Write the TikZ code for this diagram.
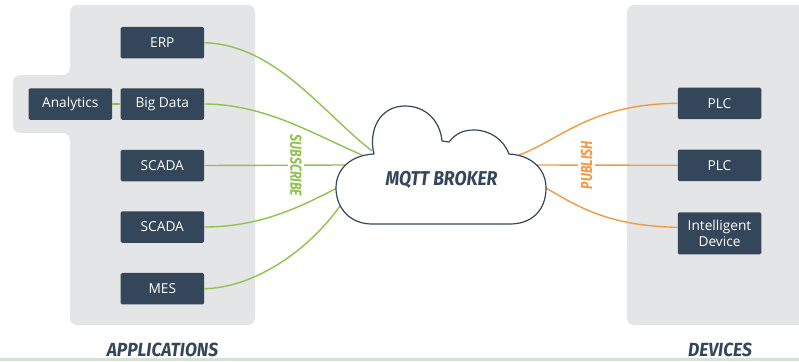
\documentclass[tikz,border=0pt]{standalone}
\usepackage{fontspec}
\setmainfont{Open Sans}
\newfontfamily\titlefont{Fira Sans}
\definecolor{panelgray}{RGB}{228,229,231}
\definecolor{boxblue}{RGB}{52,70,90}
\definecolor{subgreen}{RGB}{143,194,79}
\definecolor{puborange}{RGB}{243,154,66}
\definecolor{stripgreen}{RGB}{214,226,214}
\tikzset{
  appbox/.style={fill=boxblue, text=white, rounded corners=1.5pt, minimum width=83.5pt, minimum height=31.5pt, inner sep=0pt, align=center, font=\fontsize{13.7}{16}\selectfont},
  sublink/.style={color=subgreen, line width=1.4pt},
  publink/.style={color=puborange, line width=1.4pt},
  title/.style={text=boxblue, inner sep=0pt, xscale=0.92, font=\titlefont\fontsize{19}{20}\selectfont\bfseries\itshape},
  tag/.style={fill=white, inner xsep=4pt, inner ysep=2.5pt, yscale=0.78, font=\titlefont\fontsize{16}{16}\selectfont\bfseries\itshape}
}
\begin{document}
\begin{tikzpicture}[x=1pt, y=-1pt]
\useasboundingbox (0,0) rectangle (799,361);
\fill [color=stripgreen] (0,358) rectangle (799,361);
%
\fill [color=panelgray, rounded corners=7pt] (70,5) -- (255,5) -- (255,325) -- (70,325) -- (70,133) -- (13,133) -- (13,75) -- (70,75) -- cycle;
\fill [color=panelgray, rounded corners=7pt] (627,5) -- (830,5) -- (830,325) -- (627,325) -- cycle;
%
\node [appbox] (erp) at (162.3,42.7) {ERP};
\node [appbox] (bigdata) at (162.3,104) {Big Data};
\node [appbox] (analytics) at (70.3,104) {Analytics};
\node [appbox] (scadaA) at (162.3,165.5) {SCADA};
\node [appbox] (scadaB) at (162.3,227) {SCADA};
\node [appbox] (mes) at (162.3,288.7) {MES};
\node [appbox] (plcA) at (719.5,103.3) {PLC};
\node [appbox] (plcB) at (719.5,165.3) {PLC};
\node [appbox, minimum height=42pt] (device) at (719.5,233.3) {Intelligent\\Device};
%
\coordinate (inA) at (372,151);
\coordinate (inB) at (362,155);
\coordinate (inC) at (345,165);
\coordinate (inD) at (337,188);
\coordinate (inE) at (340,206);
\coordinate (outA) at (519,155);
\coordinate (outB) at (537,165);
\coordinate (outC) at (546,188);
%
\draw [sublink] (analytics) -- (bigdata);
\draw [sublink] (erp.east) .. controls (275,45) and (320,110) .. (inA);
\draw [sublink] (bigdata.east) .. controls (265,104) and (315,135) .. (inB);
\draw [sublink] (scadaA.east) -- (inC);
\draw [sublink] (scadaB.east) .. controls (260,227) and (300,207) .. (inD);
\draw [sublink] (mes.east) .. controls (250,288) and (305,255) .. (inE);
\draw [publink] (outA) .. controls (560,140) and (590,104) .. (plcA.west);
\draw [publink] (outB) -- (plcB.west);
\draw [publink] (outC) .. controls (580,208) and (610,226) .. ([yshift=6pt]device.west);
%
\draw [color=boxblue, line width=1.2pt, fill=white, line join=round] (374,154)
  .. controls (368,130) and (380,106) .. (405,106)
  .. controls (425,106) and (440,120) .. (442,141)
  -- (449,142)
  .. controls (456,133) and (464,130) .. (474,130)
  .. controls (490,130) and (504,140) .. (509,154)
  .. controls (530,155) and (546,168) .. (546,188)
  .. controls (546,210) and (532,224) .. (510,224)
  -- (372,224)
  .. controls (350,224) and (336,208) .. (336,188)
  .. controls (336,168) and (352,155) .. (374,154) -- cycle;
%
\node [title, xscale=0.96, font=\titlefont\fontsize{20}{20}\selectfont\bfseries\itshape] (broker) at (441.5,180) {MQTT BROKER};
\node [tag, text=subgreen, rotate=-90] (subscribe) at (296,165.5) {SUBSCRIBE};
\node [tag, text=puborange, rotate=90] (publish) at (586.5,165) {PUBLISH};
\node [title] (applications) at (162.5,350) {APPLICATIONS};
\node [title] (devices) at (720,350) {DEVICES};
%
\end{tikzpicture}
\end{document}
